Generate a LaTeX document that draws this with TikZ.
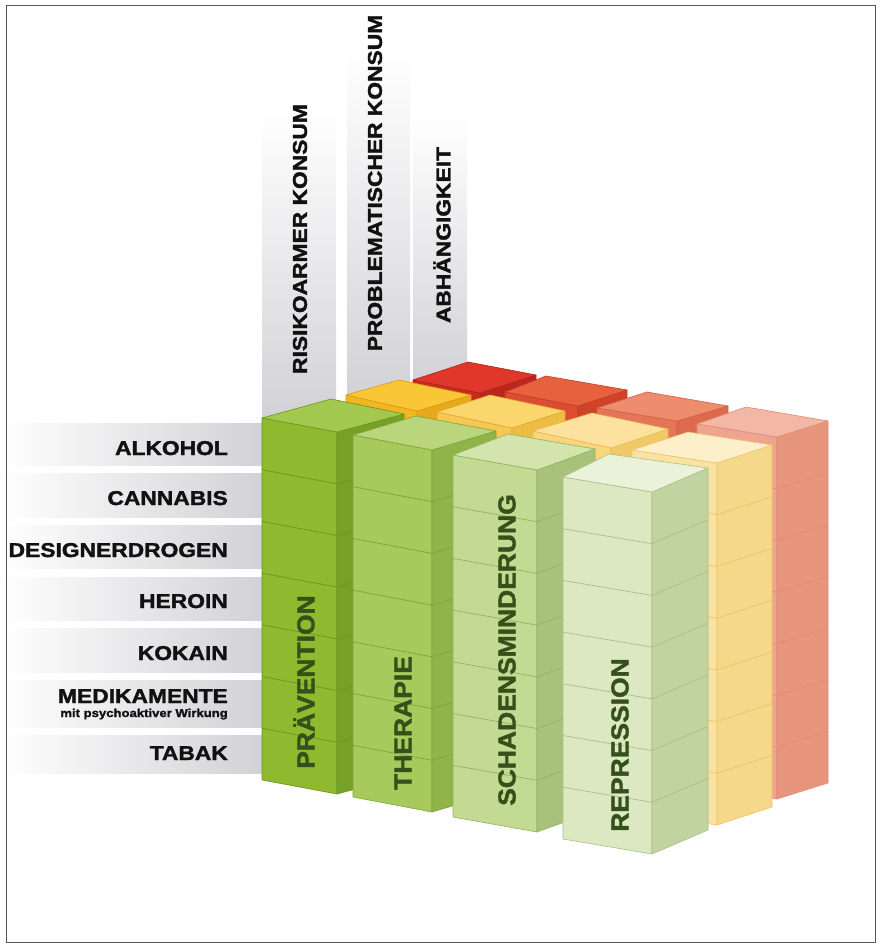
\documentclass[tikz,border=0pt]{standalone}
\usepackage{fontspec}
\setmainfont{Liberation Sans}
\newfontfamily\hvy{Liberation Sans}[UprightFeatures={FakeBold=1.6}, BoldFeatures={FakeBold=1.6}]
\usepackage{graphicx}
\usetikzlibrary{calc}

% green row
\definecolor{gPf}{HTML}{8DBA2E}\definecolor{gPs}{HTML}{76A126}\definecolor{gPt}{HTML}{A2C84E}\definecolor{gPe}{HTML}{6B9420}
\definecolor{gTf}{HTML}{A8C95C}\definecolor{gTs}{HTML}{90B448}\definecolor{gTt}{HTML}{BAD57C}\definecolor{gTe}{HTML}{7FA33C}
\definecolor{gSf}{HTML}{C3DA92}\definecolor{gSs}{HTML}{A8C27A}\definecolor{gSt}{HTML}{D3E5AD}\definecolor{gSe}{HTML}{93B166}
\definecolor{gRf}{HTML}{DCE8C1}\definecolor{gRs}{HTML}{C2D3A2}\definecolor{gRt}{HTML}{EAF2DA}\definecolor{gRe}{HTML}{A9C086}
% yellow row
\definecolor{yPf}{HTML}{F2B623}\definecolor{yPs}{HTML}{E7A91A}\definecolor{yPt}{HTML}{F8C636}\definecolor{yPe}{HTML}{D99A12}
\definecolor{yTf}{HTML}{F6C752}\definecolor{yTs}{HTML}{EFBC43}\definecolor{yTt}{HTML}{FBD66D}\definecolor{yTe}{HTML}{E0AA30}
\definecolor{ySf}{HTML}{F9D57D}\definecolor{ySs}{HTML}{F2C967}\definecolor{ySt}{HTML}{FDE29F}\definecolor{ySe}{HTML}{E6BA55}
\definecolor{yRf}{HTML}{FAE3A2}\definecolor{yRs}{HTML}{F5D88A}\definecolor{yRt}{HTML}{FDEFC9}\definecolor{yRe}{HTML}{EAC56A}
% red row
\definecolor{rPf}{HTML}{C92B1F}\definecolor{rPs}{HTML}{BC261C}\definecolor{rPt}{HTML}{DF3729}\definecolor{rPe}{HTML}{B32218}
\definecolor{rTf}{HTML}{DA4D32}\definecolor{rTs}{HTML}{CF4429}\definecolor{rTt}{HTML}{E8613F}\definecolor{rTe}{HTML}{C23C24}
\definecolor{rSf}{HTML}{E57557}\definecolor{rSs}{HTML}{DC6A4D}\definecolor{rSt}{HTML}{EE8C6E}\definecolor{rSe}{HTML}{D2604A}
\definecolor{rRf}{HTML}{EFA48F}\definecolor{rRs}{HTML}{E8957E}\definecolor{rRt}{HTML}{F3B7A5}\definecolor{rRe}{HTML}{E08A74}

\definecolor{barg}{HTML}{D2D2D6}
\definecolor{labtxt}{HTML}{111111}
\definecolor{coltxt}{HTML}{35501A}
\definecolor{framec}{HTML}{555555}

\newcommand{\hh}{362}
\newcommand{\sx}[1]{\scalebox{1.14}[1]{#1}}
\newcommand{\sxc}[1]{\scalebox{1.08}[1]{#1}}

% #1 FL, #2 FR, #3 BR, #4 BL (top corners), #5 colour prefix
\newcommand{\prism}[5]{%
  \coordinate (fl) at #1; \coordinate (fr) at #2;
  \coordinate (br) at #3; \coordinate (bl) at #4;
  \path[fill=#5f, draw=#5e, line width=0.6pt, line join=round]
    (fl) -- (fr) -- ($(fr)+(0,\hh)$) -- ($(fl)+(0,\hh)$) -- cycle;
  \path[fill=#5s, draw=#5e, line width=0.6pt, line join=round]
    (fr) -- (br) -- ($(br)+(0,\hh)$) -- ($(fr)+(0,\hh)$) -- cycle;
  \foreach \k in {1,...,6}{%
    \draw[#5e, line width=0.7pt] ($(fl)+(0,\k*\hh/7)$) -- ($(fr)+(0,\k*\hh/7)$) -- ($(br)+(0,\k*\hh/7)$);
  }
  \path[fill=#5t, draw=#5e, line width=0.6pt, line join=round]
    (fl) -- (fr) -- (br) -- (bl) -- cycle;
}

\tikzset{
  rowlab/.style={anchor=base east, inner sep=0pt, text=labtxt, font=\hvy\fontsize{20}{24}\selectfont\bfseries},
  sublab/.style={anchor=base east, inner sep=0pt, text=labtxt, font=\hvy\fontsize{11.5}{14}\selectfont\bfseries},
  toplab/.style={rotate=90, anchor=center, inner sep=0pt, text=labtxt, font=\hvy\fontsize{20}{24}\selectfont\bfseries},
  collab/.style={rotate=90, anchor=center, inner sep=0pt, text=coltxt, font=\hvy\fontsize{24.5}{28}\selectfont\bfseries},
}

\begin{document}
\begin{tikzpicture}[x=1pt,y=-1pt]
\useasboundingbox (0,0) rectangle (880,946);
\fill[white] (0,0) rectangle (880,946);

% top grey bars
\shade[top color=white, bottom color=barg] (262,110) rectangle (336,420);
\shade[top color=white, bottom color=barg] (347,50) rectangle (410,400);
\shade[top color=white, bottom color=barg] (413,115) rectangle (467,385);

% left grey bars
\foreach \a/\b in {423/465, 473/517, 525/568, 577/620, 628/672, 680/727, 735/773}{
  \shade[left color=white, right color=barg] (0,\a) rectangle (262,\b);
}

% red row (back)
\prism{(413,380)}{(480,393)}{(536,375)}{(468,362)}{rP}
\prism{(505,392)}{(578,406)}{(627,390)}{(546,376)}{rT}
\prism{(597,408)}{(677,421)}{(728,406)}{(647,392)}{rS}
\prism{(697,424)}{(777,437)}{(828,421)}{(746,407)}{rR}
% yellow row (middle)
\prism{(346,395)}{(417,411)}{(471,395)}{(399,380)}{yP}
\prism{(437,412)}{(512,428)}{(565,411)}{(490,395)}{yT}
\prism{(533,431)}{(611,448)}{(668,429)}{(592,413)}{yS}
\prism{(632,450)}{(717,463)}{(772,445)}{(688,432)}{yR}
% green row (front)
\prism{(262,418)}{(337,432)}{(404,414)}{(331,399)}{gP}
\prism{(353,435)}{(432,450)}{(496,431)}{(416,416)}{gT}
\prism{(453,455)}{(537,470)}{(595,449)}{(508,434)}{gS}
\prism{(563,477)}{(652,492)}{(708,468)}{(609,454)}{gR}

% row labels
\node[rowlab] (alk) at (228,455) {\sx{ALKOHOL}};
\node[rowlab] (can) at (228,505) {\sx{CANNABIS}};
\node[rowlab] (des) at (228,557) {\sx{DESIGNERDROGEN}};
\node[rowlab] (her) at (228,608) {\sx{HEROIN}};
\node[rowlab] (kok) at (228,660) {\sx{KOKAIN}};
\node[rowlab] (med) at (228,703) {\sx{MEDIKAMENTE}};
\node[sublab] (medsub) at (228,717) {\sx{mit psychoaktiver Wirkung}};
\node[rowlab] (tab) at (228,760) {\sx{TABAK}};

% top labels
\node[toplab] (risk) at (300,239) {\sx{RISIKOARMER KONSUM}};
\node[toplab] (prob) at (375,183) {\sx{PROBLEMATISCHER KONSUM}};
\node[toplab] (abh) at (442,235) {\sx{ABHÄNGIGKEIT}};

% column labels
\node[collab] (prae) at (304,682) {\sxc{PRÄVENTION}};
\node[collab] (ther) at (403,723) {\sxc{THERAPIE}};
\node[collab] (scha) at (507,650) {\sxc{SCHADENSMINDERUNG}};
\node[collab] (repr) at (620,745) {\sxc{REPRESSION}};

% frame
\draw[framec, line width=0.8pt] (6,5) rectangle (875,942);
\end{tikzpicture}
\end{document}
